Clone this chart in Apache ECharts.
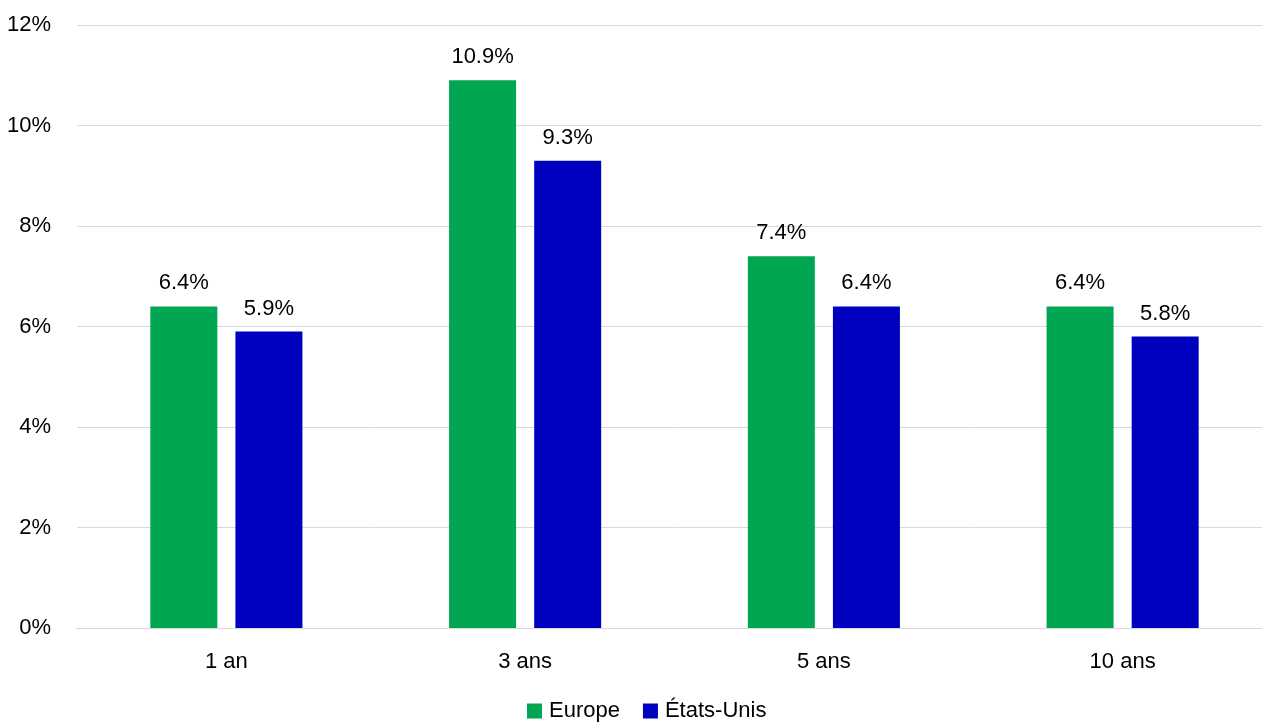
<!DOCTYPE html>
<html><head><meta charset="utf-8">
<script src="https://cdn.jsdelivr.net/npm/echarts@6/dist/echarts.min.js"></script>
<style>html,body{margin:0;padding:0;background:#fff;overflow:hidden}#c{width:1272px;height:723px}</style>
</head><body><div id="c"></div>
<script>
const categories = ['1 an', '3 ans', '5 ans', '10 ans'];
const europe = [6.4, 10.9, 7.4, 6.4];
const etatsUnis = [5.9, 9.3, 6.4, 5.8];
const yTicks = [0, 2, 4, 6, 8, 10, 12];

const FONT = '"Liberation Sans", Arial, sans-serif';
const chart = echarts.init(document.getElementById('c'));
const lbl = {show: true, position: 'top', distance: 12, color: '#000', fontFamily: FONT, fontSize: 22, formatter: p => p.value.toFixed(1) + '%'};
chart.setOption({
  animation: false,
  grid: {left: 77, right: 0, top: 25, bottom: 95, containLabel: false},
  legend: {left: 527, top: 700, padding: 0, itemWidth: 15, itemHeight: 15, itemGap: 23, icon: 'rect',
    textStyle: {fontFamily: FONT, fontSize: 22, color: '#000', padding: [0, 0, 0, 2]},
    data: ['Europe', 'États-Unis']},
  xAxis: {type: 'category', data: categories,
    axisLine: {lineStyle: {color: '#d9d9d9', width: 1}}, axisTick: {show: false},
    axisLabel: {color: '#000', fontFamily: FONT, fontSize: 22, margin: 23}},
  yAxis: {type: 'value', min: yTicks[0], max: yTicks[yTicks.length - 1], interval: 2,
    axisLine: {show: false}, axisTick: {show: false},
    splitLine: {lineStyle: {color: '#d9d9d9', width: 1}},
    axisLabel: {color: '#000', fontFamily: FONT, fontSize: 22, margin: 26, formatter: v => v + '%'}},
  series: [
    {name: 'Europe', type: 'bar', data: europe, barWidth: 67, barGap: '27%', itemStyle: {color: '#00A651'}, label: lbl},
    {name: 'États-Unis', type: 'bar', data: etatsUnis, barWidth: 67, itemStyle: {color: '#0000BF'}, label: lbl}
  ]
});
</script></body></html>
